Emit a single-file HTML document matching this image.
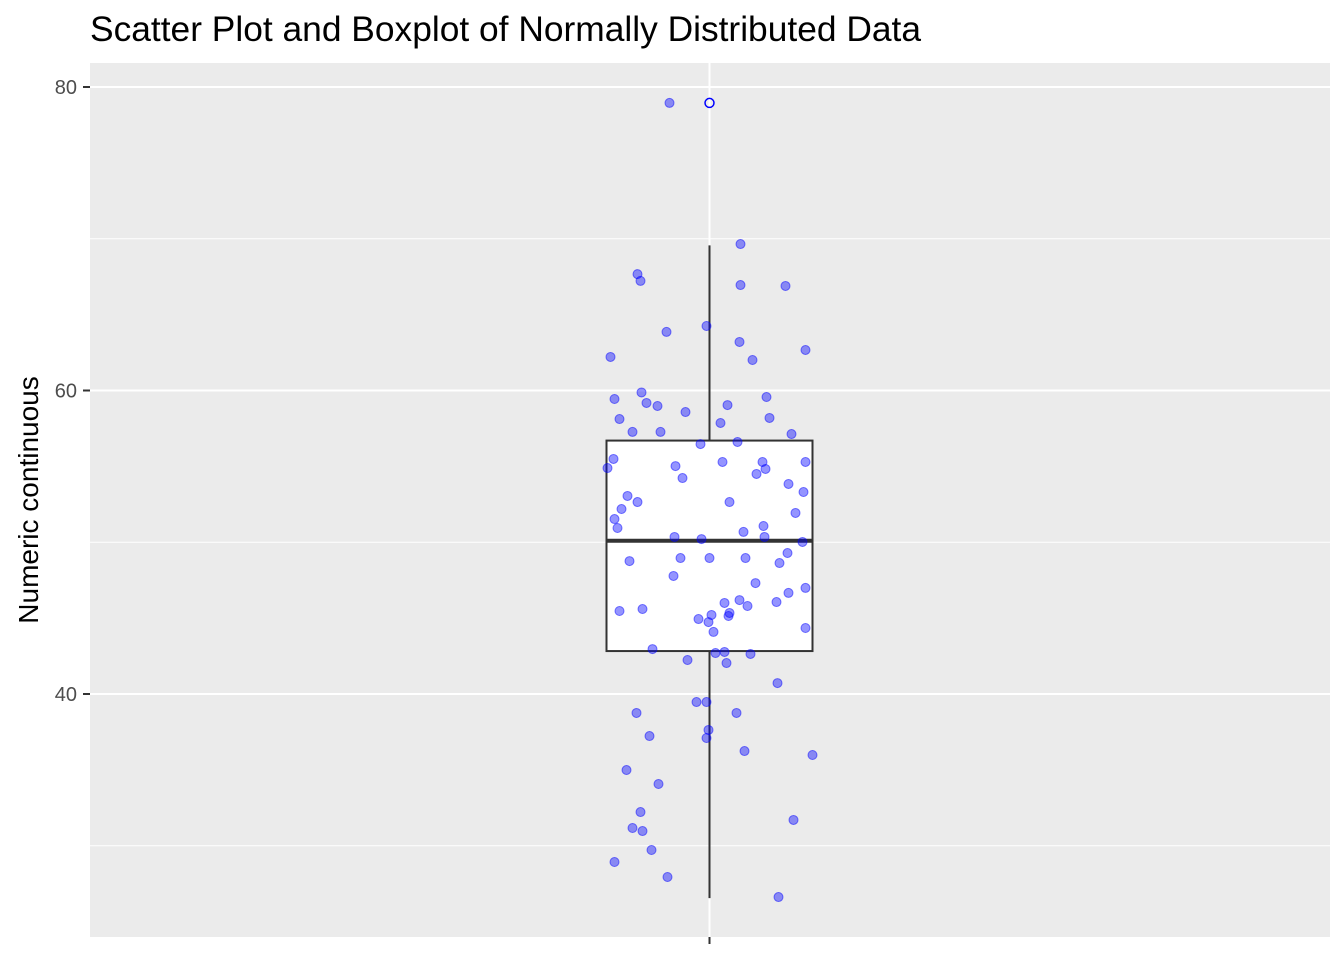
<!DOCTYPE html>
<html><head><meta charset="utf-8"><style>
body{margin:0;background:#fff;}
svg{display:block;font-family:"Liberation Sans",sans-serif;}
</style></head><body>
<svg id="chart" width="1344" height="960"></svg>
<script>
const yValues=[78.95,69.65,67.67,67.22,66.95,66.89,63.86,64.25,63.20,62.21,62.01,62.67,59.87,59.44,59.57,59.18,58.98,59.04,58.58,58.12,58.19,57.86,57.27,57.27,57.13,56.61,56.47,55.49,54.89,55.29,55.29,55.02,54.83,55.29,54.50,54.23,53.84,53.05,53.31,52.65,52.65,52.19,51.93,51.53,50.94,51.07,50.68,50.35,50.35,50.21,50.02,48.96,48.96,48.96,49.29,48.76,48.63,47.78,47.31,46.66,46.99,46.19,46.06,46.00,45.80,45.47,45.60,45.21,45.34,45.14,44.94,44.74,44.35,44.09,42.96,42.70,42.77,42.64,42.24,42.04,40.72,39.47,39.47,38.75,38.75,37.23,37.63,37.10,36.24,35.98,34.99,34.07,32.22,31.70,31.17,30.97,29.72,28.93,27.94,26.62];
const jitter=[-0.16,0.124,-0.288,-0.276,0.124,0.304,-0.172,-0.012,0.12,-0.396,0.172,0.384,-0.272,-0.38,0.228,-0.252,-0.208,0.072,-0.096,-0.36,0.24,0.044,-0.308,-0.196,0.328,0.112,-0.036,-0.384,-0.408,0.052,0.212,-0.136,0.224,0.384,0.188,-0.108,0.316,-0.328,0.376,-0.288,0.08,-0.352,0.344,-0.38,-0.368,0.216,0.136,0.22,-0.14,-0.032,0.372,-0.116,0,0.144,0.312,-0.32,0.28,-0.144,0.184,0.316,0.384,0.12,0.268,0.06,0.152,-0.36,-0.268,0.008,0.08,0.076,-0.044,-0.004,0.384,0.016,-0.228,0.024,0.06,0.164,-0.088,0.068,0.272,-0.052,-0.012,-0.292,0.108,-0.24,-0.004,-0.012,0.14,0.412,-0.332,-0.204,-0.276,0.336,-0.308,-0.268,-0.232,-0.38,-0.168,0.276];
const boxStats=[26.55,42.83,50.1,56.7,69.56];
const outliers=[78.95];
const majorTicks=[40,60,80];
const minorTicks=[30,50,70];
const tickLabels=["40","60","80"];

const svg=document.getElementById('chart');
const NS='http://www.w3.org/2000/svg';
const X0=90,X1=1330,Y0=63,Y1=937;
const yScale=v=>87+(80-v)*15.175;
const xScale=j=>709.5+j*250;
function mk(t,a,p){const e=document.createElementNS(NS,t);for(const k in a)e.setAttribute(k,a[k]);(p||svg).appendChild(e);return e;}

const panel=mk('rect',{x:X0,y:Y0,width:X1-X0,height:Y1-Y0,fill:'#EBEBEB'});


minorTicks.forEach(v=>{const l=mk('line',{x1:X0,x2:X1,y1:yScale(v),y2:yScale(v),stroke:'#fff','stroke-width':1});

});
majorTicks.forEach((v,i)=>{const l=mk('line',{x1:X0,x2:X1,y1:yScale(v),y2:yScale(v),stroke:'#fff','stroke-width':2});


const t=mk('line',{x1:83,x2:X0,y1:yScale(v),y2:yScale(v),stroke:'#333','stroke-width':2});


const tx=mk('text',{x:77,y:yScale(v)+7,'text-anchor':'end','font-size':20,fill:'#4D4D4D'});tx.textContent=tickLabels[i];

});
const vg=mk('line',{x1:xScale(0),x2:xScale(0),y1:Y0,y2:Y1,stroke:'#fff','stroke-width':2});


const xt=mk('line',{x1:xScale(0),x2:xScale(0),y1:Y1,y2:944,stroke:'#333','stroke-width':2});



const bx=mk('g',{});


const hw=0.412;
mk('line',{x1:xScale(0),x2:xScale(0),y1:yScale(boxStats[4]),y2:yScale(boxStats[3]),stroke:'#333','stroke-width':2},bx);
mk('line',{x1:xScale(0),x2:xScale(0),y1:yScale(boxStats[1]),y2:yScale(boxStats[0]),stroke:'#333','stroke-width':2},bx);
mk('rect',{x:xScale(-hw),y:yScale(boxStats[3]),width:xScale(hw)-xScale(-hw),height:yScale(boxStats[1])-yScale(boxStats[3]),fill:'#fff',stroke:'#333','stroke-width':2},bx);
mk('line',{x1:xScale(-hw),x2:xScale(hw),y1:yScale(boxStats[2]),y2:yScale(boxStats[2]),stroke:'#333','stroke-width':4},bx);
outliers.forEach(v=>{const o=mk('circle',{cx:xScale(0),cy:yScale(v),r:4.5,fill:'none',stroke:'#0000ff','stroke-width':1.5});

});

yValues.forEach((v,i)=>{const c=mk('circle',{cx:xScale(jitter[i]),cy:yScale(v),r:4.5,fill:'rgba(0,0,255,0.42)',stroke:'rgba(0,0,255,0.5)','stroke-width':1});

});

const title=mk('text',{x:90,y:41,'font-size':35,fill:'#000',textLength:831,lengthAdjust:'spacingAndGlyphs'});title.textContent='Scatter Plot and Boxplot of Normally Distributed Data';


const yt=mk('text',{x:0,y:0,'font-size':28,fill:'#000','text-anchor':'middle',transform:'translate(38,500) rotate(-90)'});yt.textContent='Numeric continuous';


</script>
</body></html>
